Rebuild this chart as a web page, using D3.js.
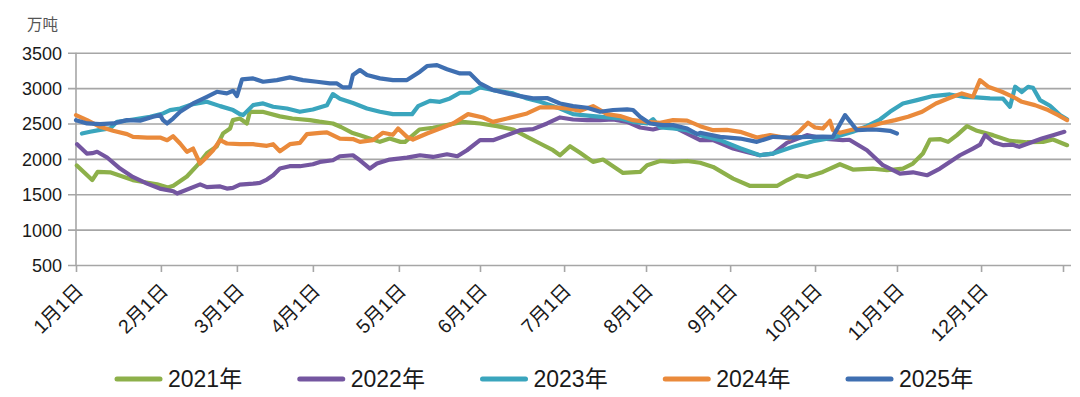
<!DOCTYPE html>
<html>
<head>
<meta charset="utf-8">
<script src="https://cdn.jsdelivr.net/npm/d3@7"></script>
<style>
  body { margin: 0; background: #fff; }
  text { font-family: "Liberation Sans", "Noto Sans CJK SC", sans-serif; fill: #1a1a1a; }
</style>
</head>
<body>
<script>
// y axis ticks (万吨)
const yTicks = [500, 1000, 1500, 2000, 2500, 3000, 3500];
// month tick labels and their position in days from 1月1日
const monthLabels = ['1月1日', '2月1日', '3月1日', '4月1日', '5月1日', '6月1日',
  '7月1日', '8月1日', '9月1日', '10月1日', '11月1日', '12月1日'];
const monthDays = [0, 31.4, 59.5, 87.6, 119.4, 149.4, 180.5, 210.8, 241.9, 273.3, 303.6, 334.7];
const yearNames = ['2021年', '2022年', '2023年', '2024年', '2025年'];

// [day, 万吨]
const s2021 = [[0.3,1906],[6,1700],[8,1815],[12.6,1810],[21,1700],[26,1665],[30,1640],[34,1595],[36,1620],
  [41,1750],[45,1915],[48.4,2080],[52,2175],[54.4,2360],[57,2430],[58,2547],[60.6,2570],[63.2,2500],
  [64.3,2665],[69,2665],[75.4,2600],[80,2570],[86.5,2547],[90,2525],[95,2500],[98,2450],[102,2370],
  [105,2335],[112.4,2240],[116,2286],[120,2240],[121.7,2240],[127,2415],[132,2440],[137,2476],[143,2523],
  [149.4,2500],[155.7,2462],[161.6,2415],[166.8,2311],[171.6,2217],[176.4,2122],[179,2051],[182.7,2179],
  [186.4,2085],[191.2,1957],[194.9,1990],[198.6,1896],[202.3,1801],[208.6,1815],[211.2,1910],[216,1970],
  [220.8,1957],[226,1970],[230.8,1945],[235.6,1886],[243,1721],[249.3,1617],[259.2,1617],[262.9,1697],
  [266.6,1768],[270.3,1745],[276.2,1815],[282.5,1924],[287.3,1849],[294.7,1863],[299.9,1839],[305.8,1863],
  [309.5,1933],[313.2,2075],[315.8,2273],[319.5,2280],[322.5,2240],[325.8,2335],[329.5,2462],[333.2,2396],
  [339.1,2335],[345.4,2254],[351.7,2235],[357.6,2240],[361.3,2273],[366.5,2193]];

const s2022 = [[0.4,2207],[4,2075],[6,2080],[7.8,2100],[11.5,2019],[16.3,1863],[21,1745],[26.3,1650],
  [31,1580],[36,1542],[37.4,1510],[45.9,1640],[48.4,1600],[53.3,1610],[55.8,1580],[58,1590],[60.6,1636],
  [65.5,1650],[68,1660],[70.6,1707],[72.9,1768],[75.4,1863],[79,1896],[82.8,1896],[87.6,1924],[90.2,1957],
  [95,1980],[97.6,2037],[102.4,2051],[105,1980],[108.7,1863],[111.3,1933],[116,1990],[122.4,2018],
  [127.2,2051],[132,2027],[137.2,2065],[141,2037],[144.6,2122],[149.4,2264],[154.2,2264],[159.4,2335],
  [164.2,2405],[169,2420],[174.2,2500],[179,2585],[183.8,2556],[189,2547],[193.8,2547],[198.6,2556],
  [203.8,2523],[208.6,2443],[213.4,2415],[219.7,2476],[226,2358],[230.8,2264],[235.6,2264],[243,2146],
  [248,2098],[252.9,2051],[257.8,2075],[262.9,2226],[270.3,2335],[276.2,2287],[283.6,2264],[286,2270],
  [292.5,2122],[298.4,1910],[304.7,1792],[309.5,1810],[314.7,1768],[319.5,1863],[326.9,2051],[331.7,2146],
  [334.3,2200],[336.2,2335],[339.5,2231],[343,2193],[346.5,2200],[348.8,2170],[352.1,2217],[357.2,2287],
  [361.3,2335],[365.5,2382]];

const s2023 = [[2.2,2358],[5.2,2382],[8.9,2410],[12.6,2430],[15.2,2523],[21.1,2556],[27.4,2594],[32.2,2642],
  [34.8,2689],[38.5,2712],[43.3,2774],[48.4,2807],[53.3,2745],[58.1,2689],[60.6,2632],[61.8,2618],
  [65.5,2759],[69.2,2783],[72.9,2736],[78,2712],[82.8,2665],[87.6,2698],[92.8,2759],[95,2915],[97.6,2850],
  [102.4,2790],[107.6,2712],[112.4,2665],[117.2,2632],[124.3,2632],[126.5,2745],[130.9,2820],[134.6,2806],
  [138.3,2854],[142,2934],[145.7,2934],[149.4,3010],[154.2,2972],[161.6,2925],[166.8,2854],[171.6,2806],
  [179,2712],[183.8,2632],[191.2,2604],[196.4,2585],[201.2,2570],[206,2523],[211.2,2500],[213.4,2560],
  [216,2443],[220.8,2430],[226,2405],[230.8,2335],[238.2,2264],[245.6,2150],[252.9,2051],[257.8,2075],
  [265.2,2170],[272.6,2250],[279.9,2300],[287.3,2382],[292.5,2462],[297.3,2556],[301,2665],[305.8,2783],
  [311,2830],[316.9,2887],[323.2,2910],[328,2877],[333,2870],[338,2854],[342.8,2850],[345.4,2736],
  [347.3,3019],[349.8,2945],[352.1,3019],[353.9,3005],[356.5,2830],[360.2,2750],[363.9,2618],[366.5,2560]];

const s2024 = [[0,2618],[4.1,2547],[8.9,2453],[13.7,2396],[18.9,2349],[21.1,2311],[26.3,2301],[31.1,2301],
  [33.7,2264],[35.9,2320],[38.5,2217],[41,2100],[43.3,2146],[45.9,1933],[48.4,2027],[50.7,2122],[53.3,2264],
  [55.8,2217],[60.6,2207],[65.5,2207],[70.6,2184],[72.9,2207],[75.4,2108],[79.1,2207],[82.8,2226],
  [85.4,2349],[90.2,2368],[92.8,2375],[97.6,2287],[102.4,2280],[105,2240],[109.8,2264],[113.5,2368],
  [117.2,2340],[119.1,2429],[122.4,2311],[124.6,2273],[129.8,2358],[134.6,2429],[139.4,2500],[145,2632],
  [150.5,2585],[154.2,2523],[159.4,2570],[166.8,2642],[171.6,2727],[176.4,2727],[181.6,2712],[186.4,2679],
  [191.2,2745],[196.4,2632],[201.2,2604],[206,2547],[211.2,2523],[216,2510],[220.8,2547],[226,2540],
  [230.8,2462],[235.6,2405],[240.7,2410],[245.6,2382],[251.8,2301],[256.7,2335],[264,2287],[267.7,2396],
  [270.7,2510],[273.3,2443],[276.2,2429],[278.8,2537],[279.9,2405],[282.5,2368],[287.3,2415],[292.5,2443],
  [297.3,2500],[302.9,2547],[307.7,2594],[312.9,2665],[318,2783],[323,2860],[327.6,2925],[331.7,2877],
  [334.3,3113],[337.3,3019],[342.4,2948],[346.5,2877],[349.8,2806],[354.6,2759],[359.5,2689],[363.2,2618],
  [366.5,2547]];

const s2025 = [[0,2547],[4.1,2500],[8.9,2490],[13.7,2500],[18.9,2547],[23.7,2540],[28.5,2594],[31.1,2618],
  [32.2,2547],[33.7,2500],[35.9,2570],[38.5,2665],[43.3,2783],[48.4,2877],[52.1,2948],[55.8,2925],
  [58.1,2962],[59.5,2887],[61.4,3123],[65.5,3137],[69.2,3090],[74.3,3113],[79.1,3151],[83.9,3113],
  [89.1,3090],[93.9,3066],[96.5,3066],[98.7,3010],[101.3,3010],[102.4,3184],[105,3255],[107.6,3184],
  [112.4,3137],[117.2,3113],[122.4,3113],[127.2,3231],[129.8,3312],[133.5,3325],[137.2,3266],[142,3207],
  [145.7,3207],[149.4,3066],[154.2,2972],[159.4,2925],[164.2,2887],[169,2854],[174.2,2860],[179,2783],
  [183.8,2745],[189,2722],[193.8,2665],[198.6,2690],[203.8,2698],[206,2690],[208.6,2594],[212.3,2500],
  [217.1,2476],[220.8,2476],[226,2429],[229.7,2349],[230.8,2368],[238.2,2311],[245.6,2287],[251.8,2240],
  [257.8,2311],[264,2300],[270.3,2311],[276.2,2315],[279.9,2311],[284.4,2618],[288.8,2405],[294.7,2415],
  [297.3,2410],[301,2396],[303.6,2358]];

const series = [s2021, s2022, s2023, s2024, s2025];
const colors = ['#8db04a', '#7456a0', '#3aa5bd', '#ea8a3b', '#3f6fb1'];

const W = 1080, H = 397;
const svg = d3.select('body').append('svg')
    .attr('width', W)
    .attr('height', H);

let x = d3.scaleLinear().domain([0, 365]).range([76, 1063]);
let y = d3.scaleLinear().domain([500, 3500]).range([265, 52.7]);
const gridLeft = 68, gridRight = 1071;

// unit label
svg.append('text')
    .attr('x', 27).attr('y', 30)
    .style('font-size', '15.5px')
    .style('fill', '#555')
    .text('万吨');

// y axis with grid lines
let yAxis = svg.append('g')
    .attr('transform', 'translate(' + gridLeft + ',0)')
    .call(d3.axisLeft(y).tickValues(yTicks)
        .tickSizeInner(-(gridRight - gridLeft)).tickSizeOuter(0).tickPadding(6)
        .tickFormat(d3.format('d')));
yAxis.select('.domain').remove();
yAxis.selectAll('line').attr('stroke', '#a6a6a6').attr('stroke-width', 1.6);
yAxis.selectAll('text').style('font-size', '18px').attr('dy', '0.36em');

// vertical axis line
svg.append('line')
    .attr('x1', x(0)).attr('x2', x(0))
    .attr('y1', y(3500)).attr('y2', y(500))
    .attr('stroke', '#a6a6a6').attr('stroke-width', 1.6);

// x axis
let xAxis = svg.append('g')
    .attr('transform', 'translate(0,' + y(500) + ')')
    .call(d3.axisBottom(x).tickValues(monthDays.concat([365]))
        .tickSize(7).tickSizeOuter(0)
        .tickFormat((d, i) => monthLabels[i] || ''));
xAxis.select('.domain').remove();
xAxis.selectAll('line').attr('stroke', '#a6a6a6').attr('stroke-width', 1.6);
xAxis.selectAll('text')
    .style('font-size', '19.5px')
    .attr('text-anchor', 'end')
    .attr('x', 0).attr('y', 0).attr('dy', '0.35em')
    .attr('transform', 'translate(3,22) rotate(-45)');

// series lines
let line = d3.line()
    .x(d => x(d[0]))
    .y(d => y(d[1]));

svg.append('g').selectAll('path')
    .data(series)
    .enter()
    .append('path')
    .attr('d', line)
    .attr('fill', 'none')
    .attr('stroke', (d, i) => colors[i])
    .attr('stroke-width', 4.2)
    .attr('stroke-linejoin', 'round')
    .attr('stroke-linecap', 'round');

// legend
let legend = svg.append('g').selectAll('g')
    .data(yearNames)
    .enter()
    .append('g')
    .attr('transform', (d, i) => 'translate(' + (117 + i * 182.75) + ',379)');
legend.append('line')
    .attr('x1', 0).attr('x2', 43)
    .attr('stroke', (d, i) => colors[i])
    .attr('stroke-width', 5)
    .attr('stroke-linecap', 'round');
legend.append('text')
    .attr('x', 51).attr('dy', '0.36em')
    .style('font-size', '23px')
    .text(d => d);
</script>
</body>
</html>
